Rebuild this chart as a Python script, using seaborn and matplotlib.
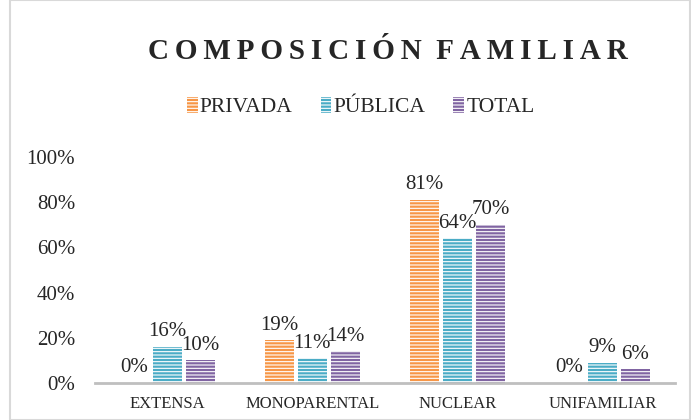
import pandas as pd
import numpy as np
import matplotlib.pyplot as plt
import seaborn as sns
from matplotlib.patches import Patch, Rectangle

categories = ["EXTENSA", "MONOPARENTAL", "NUCLEAR", "UNIFAMILIAR"]
series = ["PRIVADA", "PÚBLICA", "TOTAL"]
privada = [0, 19, 81, 0]
publica = [16, 11, 64, 9]
total = [10, 14, 70, 6]
colors = ["#F79646", "#4BACC6", "#8064A2"]

df = pd.DataFrame({
    "cat": categories * 3,
    "serie": [s for s in series for _ in categories],
    "val": privada + publica + total,
})

sns.set_style("white")
plt.rcParams['font.family'] = ['Liberation Serif', 'DejaVu Serif']
plt.rcParams['hatch.color'] = (1, 1, 1, 0.6)
plt.rcParams['hatch.linewidth'] = 0.8

fig = plt.figure(figsize=(6.91, 4.20), dpi=100)
ax = fig.add_axes([0.137, 0.088, 0.84, 0.538])

sns.barplot(data=df, x="cat", y="val", hue="serie", hue_order=series,
            order=categories, palette=colors, width=0.68, gap=0.12,
            saturation=1, ax=ax, legend=False)

# horizontal stripes like the original
for bar in ax.patches:
    bar.set_hatch("-----")
    bar.set_linewidth(0)

for cont in ax.containers:
    ax.bar_label(cont, labels=[f"{int(v)}%" for v in cont.datavalues],
                 padding=4, fontsize=15)

ax.set_ylim(0, 100)
ax.set_yticks(range(0, 101, 20))
ax.set_yticklabels([f"{t}%" for t in range(0, 101, 20)], fontsize=15)
ax.tick_params(axis='x', labelsize=12, length=0, pad=9)
ax.tick_params(axis='y', length=0, pad=14)
ax.set_xlabel("")
ax.set_ylabel("")
sns.despine(ax=ax, left=True)
ax.spines['bottom'].set_color('#BFBFBF')
ax.spines['bottom'].set_linewidth(2)

handles = [Patch(facecolor=c, hatch="-----", linewidth=0) for c in colors]
fig.legend(handles, series, loc='center', bbox_to_anchor=(0.522, 0.745), ncol=3,
           frameon=False, fontsize=15.5, handlelength=0.5, handleheight=0.8,
           handletextpad=0.1, columnspacing=1.3)

fig.text(0.562, 0.878, "C O M P O S I C I Ó N   F A M I L I A R".replace(" ", "\u2009").replace("\u2009\u2009\u2009", "  "),
         ha='center', va='center', fontsize=21, fontweight='bold')

fig.patches.append(Rectangle((0.014, 0.0), 0.985, 0.999, transform=fig.transFigure,
                             fill=False, edgecolor='#D9D9D9', linewidth=1.5))

fig.savefig("out.png", dpi=100)
